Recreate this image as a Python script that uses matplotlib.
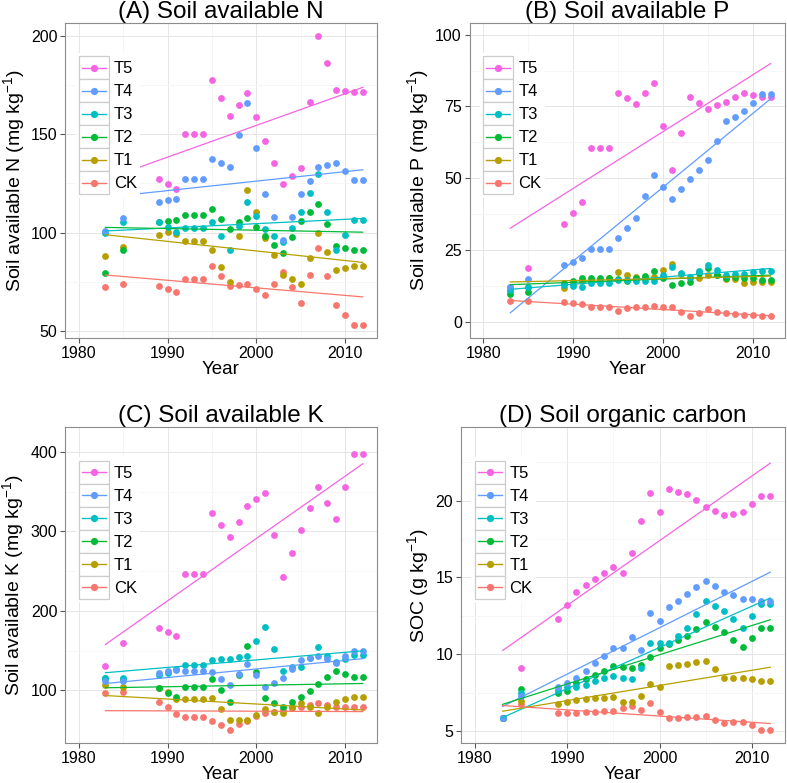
import numpy as np
import matplotlib
matplotlib.use('Agg')
import matplotlib.pyplot as plt
from matplotlib.legend_handler import HandlerBase
from matplotlib.patches import Rectangle
from matplotlib.lines import Line2D

years = [1983, 1985, 1989, 1990, 1991, 1992, 1993, 1994, 1995, 1996, 1997, 1998, 1999,
         2000, 2001, 2002, 2003, 2004, 2005, 2006, 2007, 2008, 2009, 2010, 2011, 2012]

treatments = ['T5', 'T4', 'T3', 'T2', 'T1', 'CK']
colors = {'CK': '#F8766D', 'T1': '#B79F00', 'T2': '#00BA38',
          'T3': '#00BFC4', 'T4': '#619CFF', 'T5': '#F564E3'}

# (A) soil available N, mg/kg
n_ck = [72.1, 74.1, 73.1, 71.5, 70.0, 76.6, 76.6, 76.6, 83.1, 77.8, 72.6, 73.2, 73.9,
        71.2, 68.3, 74.1, 79.8, 72.1, 64.4, 78.3, 92.2, 77.8, 63.2, 58.2, 53.3, 53.3]
n_t1 = [88.3, 92.7, 98.8, 100.2, 99.0, 95.9, 95.9, 95.9, 90.9, 82.7, 74.8, 98.3, 121.7,
        110.2, 97.0, 88.5, 78.5, 76.5, 74.1, 87.0, 99.7, 90.3, 81.2, 82.0, 83.1, 83.1]
n_t2 = [79.2, 91.2, 105.4, 105.6, 106.1, 109.1, 109.1, 109.1, 111.9, 106.8, 102.0, 105.1, 107.6,
        102.7, 98.3, 93.9, 89.5, 97.5, 105.6, 110.2, 114.7, 104.1, 93.2, 92.2, 91.0, 91.0]
n_t3 = [99.7, 105.3, 105.4, 102.7, 100.2, 102.5, 102.5, 102.5, 105.1, 98.0, 91.0, 103.4, 115.6,
        108.5, 101.9, 98.3, 95.1, 102.5, 110.2, 120.0, 129.8, 110.3, 91.2, 98.6, 106.1, 106.1]
n_t4 = [101.0, 107.5, 115.6, 116.4, 116.9, 127.3, 127.3, 127.3, 137.4, 135.2, 133.2, 149.5, 165.9,
        142.7, 119.5, 107.8, 96.3, 107.8, 119.5, 126.4, 133.5, 134.4, 135.1, 131.0, 126.9, 126.9]
n_t5 = [122.0, 130.0, 127.4, 124.7, 122.0, 150.0, 150.0, 150.0, 177.4, 168.3, 158.9, 164.7, 170.6,
        158.6, 146.4, 135.4, 124.6, 128.6, 132.7, 166.2, 199.9, 185.9, 172.2, 171.8, 171.3, 171.3]

# (B) soil available P, mg/kg
p_ck = [7.2, 7.2, 7.0, 6.4, 6.0, 5.0, 5.0, 5.0, 3.7, 4.6, 5.2, 5.2, 5.5,
        5.2, 5.0, 3.5, 2.0, 3.1, 4.4, 3.5, 2.9, 2.7, 2.4, 2.2, 2.0, 2.0]
p_t1 = [12.0, 12.0, 11.8, 13.0, 14.0, 14.5, 14.5, 15.1, 17.4, 16.3, 15.4, 15.5, 15.6,
        18.0, 20.0, 16.5, 15.1, 15.1, 16.3, 16.3, 14.9, 14.9, 13.4, 13.7, 13.9, 13.9]
p_t2 = [9.6, 10.5, 13.4, 14.3, 15.3, 15.3, 15.3, 15.3, 14.8, 14.3, 15.1, 16.0, 17.7,
        15.3, 12.8, 13.4, 13.9, 16.8, 18.6, 16.3, 15.1, 15.5, 15.3, 15.1, 14.5, 14.5]
p_t3 = [11.0, 12.2, 12.8, 12.5, 12.2, 13.6, 13.6, 13.6, 14.5, 14.5, 14.3, 14.2, 14.2,
        16.3, 18.9, 17.1, 15.5, 17.8, 19.7, 18.0, 16.3, 16.6, 16.6, 17.2, 17.8, 17.8]
p_t4 = [12.0, 14.8, 19.7, 20.9, 22.1, 25.4, 25.4, 25.4, 29.0, 32.6, 36.2, 43.8, 51.2,
        47.0, 42.9, 46.2, 49.6, 53.0, 56.3, 63.1, 69.9, 71.5, 73.3, 76.3, 79.3, 79.3]
p_t5 = [10.8, 18.6, 33.9, 37.7, 41.6, 60.6, 60.6, 60.6, 79.8, 77.8, 75.8, 79.8, 83.3,
        68.1, 52.8, 65.6, 78.4, 76.3, 74.2, 75.5, 76.7, 78.3, 79.8, 79.1, 78.2, 78.2]

# (C) soil available K, mg/kg
k_ck = [96.6, 97.9, 84.9, 78.6, 70.6, 66.4, 66.4, 66.4, 62.2, 56.7, 50.4, 58.0, 62.0,
        68.1, 71.4, 72.7, 75.0, 77.7, 78.6, 81.9, 84.0, 81.9, 78.6, 78.6, 78.6, 78.6]
k_t1 = [107.0, 104.0, 103.0, 97.5, 89.1, 89.1, 89.1, 89.1, 90.3, 76.9, 62.6, 63.0, 63.0,
        69.3, 76.9, 73.5, 71.4, 78.6, 84.0, 79.8, 72.3, 79.8, 86.1, 89.5, 92.4, 92.4]
k_t2 = [115.5, 114.3, 102.9, 96.6, 92.4, 103.8, 103.8, 103.8, 114.7, 100.8, 86.1, 120.0, 155.5,
        123.1, 89.9, 84.0, 78.6, 84.9, 91.6, 99.6, 108.4, 116.8, 124.8, 120.6, 116.8, 116.8]
k_t3 = [115.5, 115.5, 119.7, 122.0, 126.9, 131.5, 131.5, 131.5, 138.7, 139.5, 139.9, 141.6, 143.7,
        162.2, 179.8, 152.5, 124.8, 130.0, 129.4, 140.8, 154.2, 143.7, 135.7, 139.5, 145.0, 145.0]
k_t4 = [111.3, 111.3, 121.8, 123.9, 126.0, 124.8, 124.8, 124.8, 123.1, 114.3, 106.7, 120.6, 133.6,
        118.9, 104.2, 109.2, 115.1, 127.3, 138.7, 140.8, 142.9, 139.5, 134.5, 142.9, 150.0, 150.0]
k_t5 = [131.1, 159.7, 178.6, 173.5, 168.9, 246.2, 246.2, 246.2, 323.1, 308.0, 292.9, 312.2, 331.9,
        340.3, 348.7, 295.4, 242.4, 272.3, 301.7, 329.0, 355.9, 336.1, 316.0, 356.3, 397.0, 397.0]

# (D) soil organic carbon, g/kg
c_ck = [5.85, 6.74, 6.15, 6.15, 6.19, 6.24, 6.26, 6.28, 6.30, 6.52, 6.65, 6.37, 6.80,
        6.26, 5.82, 5.82, 5.89, 5.93, 5.98, 5.72, 5.50, 5.56, 5.61, 5.39, 5.07, 5.07]
c_t1 = [5.85, 6.98, 6.74, 6.87, 7.02, 7.06, 7.13, 7.17, 7.19, 6.91, 6.91, 7.30, 8.06,
        7.84, 9.23, 9.30, 9.36, 9.47, 9.56, 9.02, 8.43, 8.43, 8.47, 8.37, 8.26, 8.26]
c_t2 = [5.85, 7.74, 7.50, 7.60, 8.10, 8.37, 8.65, 8.93, 9.23, 9.19, 9.12, 9.30, 9.84,
        10.43, 10.64, 10.93, 11.19, 11.64, 12.08, 11.75, 11.47, 10.93, 10.45, 11.04, 11.69, 11.69]
c_t3 = [5.85, 7.50, 7.67, 7.84, 7.89, 8.00, 8.26, 8.43, 8.58, 8.47, 8.37, 9.08, 10.75,
        10.75, 10.75, 11.19, 11.73, 12.60, 13.47, 13.14, 12.84, 12.27, 11.73, 12.49, 13.25, 13.25]
c_t4 = [5.85, 7.28, 7.84, 8.10, 8.43, 8.90, 9.40, 9.90, 10.38, 10.38, 11.14, 10.28, 12.66,
        12.19, 13.05, 13.49, 13.92, 14.36, 14.79, 14.44, 14.03, 13.84, 13.62, 13.58, 13.49, 13.47]
c_t5 = [5.85, 9.12, 12.30, 13.20, 14.07, 14.50, 14.88, 15.27, 15.66, 15.27, 16.57, 18.70, 20.48,
        19.26, 20.74, 20.59, 20.44, 20.05, 19.61, 19.35, 19.09, 19.16, 19.26, 19.81, 20.33, 20.33]


class KeyBox(HandlerBase):
    # ggplot-like legend key: grey-bordered box with line + dot
    def create_artists(self, legend, orig_handle, xdescent, ydescent,
                       width, height, fontsize, trans):
        col = orig_handle.get_color()
        box = Rectangle((-xdescent, -ydescent), width, height, facecolor='white',
                        edgecolor='#cccccc', lw=0.9, transform=trans)
        ymid = -ydescent + height / 2
        line = Line2D([-xdescent + 0.1 * width, -xdescent + 0.9 * width], [ymid, ymid],
                      color=col, lw=1.0, transform=trans)
        dot = Line2D([-xdescent + width / 2], [ymid], marker='o', ms=5.2, mew=0,
                     color=col, ls='none', transform=trans)
        return [box, line, dot]


def draw_panel(ax, series, title, ylabel, ylim, yticks, yminor):
    # draw order: CK on top of the treatments except T4, as in the original
    for t in ['T5', 'CK', 'T1', 'T2', 'T3', 'T4']:
        vals = np.array(series[t])
        ax.scatter(years, vals, s=24, color=colors[t], linewidths=0, zorder=2)
    for t in treatments:
        vals = np.array(series[t])
        slope, icept = np.polyfit(years, vals, 1)
        xs = np.array([min(years), max(years)])
        ax.plot(xs, icept + slope * xs, color=colors[t], lw=0.9, zorder=3)

    ax.set_xlim(1978.45, 2013.6)
    ax.set_ylim(*ylim)
    ax.set_xticks([1980, 1990, 2000, 2010])
    ax.set_xticks([1985, 1995, 2005], minor=True)
    ax.set_yticks(yticks)
    ax.set_yticks(yminor, minor=True)
    ax.grid(True, which='major', color='#e6e6e6', lw=0.7)
    ax.grid(True, which='minor', color='#f5f5f5', lw=0.6)
    ax.set_axisbelow(True)
    for sp in ax.spines.values():
        sp.set_color('#8c8c8c')
        sp.set_linewidth(0.8)
    ax.tick_params(which='major', length=3.5, width=0.8, color='#555555',
                   labelsize=11.5, pad=2)
    ax.tick_params(which='minor', length=0)
    ax.set_title(title, fontsize=17.5, pad=2.5)
    ax.set_xlabel('Year', fontsize=13.5, labelpad=0)
    ax.set_ylabel(ylabel, fontsize=14, labelpad=3)

    handles = [Line2D([], [], color=colors[t]) for t in treatments]
    pos = ax.get_position()
    w_px = pos.width * 787
    h_px = pos.height * 783
    leg = ax.legend(handles, treatments, handler_map={Line2D: KeyBox()},
                    loc='upper left', bbox_to_anchor=(10.5 / w_px, 1 - 30 / h_px),
                    borderaxespad=0, borderpad=0.2, labelspacing=0, handlelength=1.8,
                    handleheight=1.75, handletextpad=0.3, fontsize=12,
                    frameon=True, fancybox=False, framealpha=1)
    leg.get_frame().set_edgecolor('none')
    leg.get_frame().set_facecolor('white')


def main():
    plt.rcParams['font.family'] = ['Liberation Sans', 'DejaVu Sans']
    plt.rcParams['mathtext.default'] = 'regular'

    fig = plt.figure(figsize=(7.87, 7.83), dpi=100)
    ax_a = fig.add_axes([65 / 787, 1 - 338.3 / 783, 312 / 787, 315.6 / 783])
    ax_b = fig.add_axes([469.5 / 787, 1 - 338.3 / 783, 315.5 / 787, 315.6 / 783])
    ax_c = fig.add_axes([65 / 787, 1 - 743.3 / 783, 312 / 787, 316 / 783])
    ax_d = fig.add_axes([460.7 / 787, 1 - 743.3 / 783, 324.3 / 787, 316 / 783])

    draw_panel(ax_a, {'CK': n_ck, 'T1': n_t1, 'T2': n_t2, 'T3': n_t3, 'T4': n_t4, 'T5': n_t5},
               '(A) Soil available N', r'Soil available N (mg kg$^{-1}$)',
               (46.3, 206.5), [50, 100, 150, 200], [75, 125, 175])
    draw_panel(ax_b, {'CK': p_ck, 'T1': p_t1, 'T2': p_t2, 'T3': p_t3, 'T4': p_t4, 'T5': p_t5},
               '(B) Soil available P', r'Soil available P (mg kg$^{-1}$)',
               (-5.8, 104.2), [0, 25, 50, 75, 100], [12.5, 37.5, 62.5, 87.5])
    draw_panel(ax_c, {'CK': k_ck, 'T1': k_t1, 'T2': k_t2, 'T3': k_t3, 'T4': k_t4, 'T5': k_t5},
               '(C) Soil available K', r'Soil available K (mg kg$^{-1}$)',
               (33.6, 430.7), [100, 200, 300, 400], [150, 250, 350])
    draw_panel(ax_d, {'CK': c_ck, 'T1': c_t1, 'T2': c_t2, 'T3': c_t3, 'T4': c_t4, 'T5': c_t5},
               '(D) Soil organic carbon', r'SOC (g kg$^{-1}$)',
               (4.2, 24.78), [5, 10, 15, 20], [7.5, 12.5, 17.5, 22.5])

    fig.savefig('out.png', dpi=100)


main()
